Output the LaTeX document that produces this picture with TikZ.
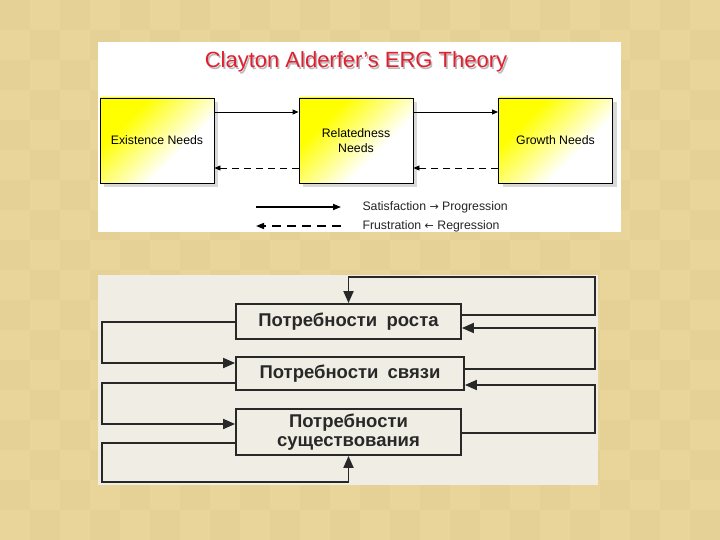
\documentclass[tikz,border=0pt]{standalone}
\usepackage{fontspec}
\setmainfont{Liberation Sans}
\newfontfamily\arrowfont{DejaVu Sans}
\usetikzlibrary{arrows.meta,shadows}
\definecolor{bgA}{RGB}{233,213,153}
\definecolor{bgB}{RGB}{224,203,142}
\definecolor{panel}{RGB}{240,238,228}
\definecolor{ink}{RGB}{40,40,40}
\definecolor{titlered}{RGB}{224,32,48}
\pgfdeclarehorizontalshading{ergshade}{100bp}{color(0bp)=(yellow); color(32bp)=(yellow); color(62bp)=(white); color(100bp)=(white)}
\tikzset{
  ergbox/.style={draw=black, line width=0.9pt, minimum width=114pt, minimum height=85pt,
    inner sep=0pt, shade, shading=ergshade, shading angle=-45,
    drop shadow={shadow xshift=4pt, shadow yshift=-4pt, opacity=0.3, fill=gray},
    align=center, font=\fontsize{12.3}{15}\selectfont},
  solidarr/.style={line width=0.9pt, -{Triangle[length=6pt,width=5pt]}},
  dasharr/.style={line width=0.9pt, dash pattern=on 7pt off 5pt, -{Triangle[length=6pt,width=5pt]}},
  legarr/.style={line width=1.6pt, -{Triangle[length=8pt,width=6pt]}},
  legtext/.style={anchor=west, font=\fontsize{12.3}{14}\selectfont, text=black!85},
  rubox/.style={draw=ink, line width=1.8pt, fill=panel, inner sep=0pt, align=center,
    font=\bfseries\fontsize{18.5}{19}\selectfont, text=ink},
  ruarr/.style={draw=ink, line width=1.8pt, -{Triangle[length=12pt,width=10pt]}}
}
\begin{document}
\begin{tikzpicture}[x=1pt,y=-1pt]
\useasboundingbox (0,0) rectangle (720,540);
% background texture
\fill[bgA] (0,0) rectangle (720,540);
\foreach \i in {0,...,23}{\foreach \j in {0,...,17}{%
  \pgfmathtruncatemacro\k{mod(\i+\j,2)}%
  \ifnum\k=0 \fill[bgB,opacity=0.35] (\i*30,\j*30) rectangle ++(30,30);\fi}}
% ---------- top panel ----------
\fill[white] (98,42) rectangle (621,232);
\node[font=\fontsize{22}{24}\selectfont, text=gray!55] (ttlS) at (357.5,63.5) {Clayton Alderfer’s ERG Theory};
\node[font=\fontsize{22}{24}\selectfont, text=titlered] (ttl) at (356,62) {Clayton Alderfer’s ERG Theory};
\node[ergbox] (E) at (157,140.5) {Existence Needs};
\node[ergbox] (R) at (356,140.5) {Relatedness\\Needs};
\node[ergbox] (G) at (555.5,140.5) {Growth Needs};
\draw[solidarr] ([yshift=28.5pt]E.east) -- ([yshift=28.5pt]R.west);
\draw[solidarr] ([yshift=28.5pt]R.east) -- ([yshift=28.5pt]G.west);
\draw[dasharr] ([yshift=-27.5pt]R.west) -- ([yshift=-27.5pt]E.east);
\draw[dasharr] ([yshift=-27.5pt]G.west) -- ([yshift=-27.5pt]R.east);
\coordinate (l1a) at (256,207);
\coordinate (l1b) at (341,207);
\coordinate (l2a) at (341,226);
\coordinate (l2b) at (256,226);
\draw[legarr] (l1a) -- (l1b);
\draw[legarr, dash pattern=on 9pt off 6pt] (l2a) -- (l2b);
\node[legtext] (t1) at (359,207) {Satisfaction {\arrowfont\fontsize{11}{14}\selectfont →} Progression};
\node[legtext] (t2) at (359,226) {Frustration {\arrowfont\fontsize{11}{14}\selectfont ←} Regression};
% ---------- bottom panel ----------
\fill[panel] (98,275) rectangle (598,485);
\node[rubox, minimum width=225pt, minimum height=35pt] (g) at (348.5,321.5) {Потребности\enspace роста};
\node[rubox, minimum width=228pt, minimum height=33pt] (r) at (350,373.5) {Потребности\enspace связи};
\node[rubox, minimum width=225pt, minimum height=46pt] (ex) at (348.5,432) {Потребности\\существования};
\coordinate (rt) at (595,277);
\coordinate (lb) at (102,482);
\coordinate (gE1) at ([yshift=6.5pt]g.east);
\coordinate (gE2) at ([yshift=-6.5pt]g.east);
\coordinate (rE1) at ([yshift=4.5pt]r.east);
\coordinate (rE2) at ([yshift=-11.5pt]r.east);
\coordinate (eE1) at ([yshift=-1pt]ex.east);
\coordinate (gW) at ([yshift=-0.5pt]g.west);
\coordinate (rW1) at ([yshift=10.5pt]r.west);
\coordinate (rW2) at ([yshift=-9.5pt]r.west);
\coordinate (eW1) at ([yshift=8pt]ex.west);
\coordinate (eW2) at ([yshift=-11pt]ex.west);
\draw[ruarr] (gE1) -| (rt) -| (g.north);
\draw[ruarr] (rE1) -| (rt |- gE2) -- (gE2);
\draw[ruarr] (eE1) -| (rt |- rE2) -- (rE2);
\draw[ruarr] (gW) -| (lb |- rW1) -- (rW1);
\draw[ruarr] (rW2) -| (lb |- eW1) -- (eW1);
\draw[ruarr] (eW2) -| (lb) -| (ex.south);
\end{tikzpicture}
\end{document}
